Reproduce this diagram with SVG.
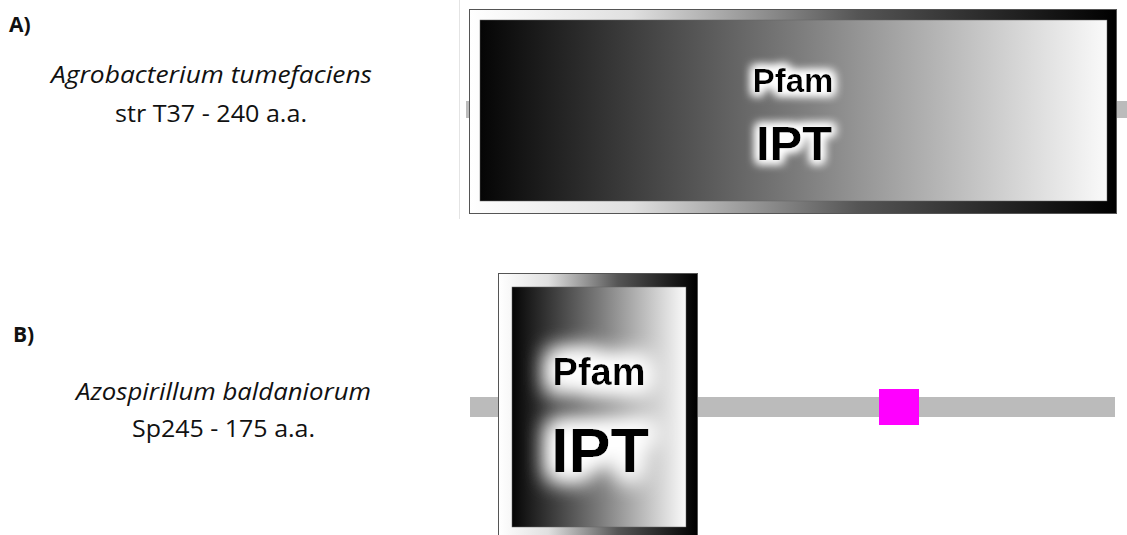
<svg xmlns="http://www.w3.org/2000/svg" width="1127" height="535" viewBox="0 0 1127 535">
<defs>
<linearGradient id="inner" x1="0" y1="0" x2="1" y2="0">
<stop offset="0" stop-color="#050505"/><stop offset="0.5" stop-color="#7a7a7a"/><stop offset="1" stop-color="#fafafa"/>
</linearGradient>
<linearGradient id="frame" x1="0" y1="0" x2="1" y2="0">
<stop offset="0" stop-color="#ffffff"/><stop offset="0.25" stop-color="#e0e0e0"/><stop offset="0.6" stop-color="#555"/><stop offset="1" stop-color="#000"/>
</linearGradient>
<filter id="glowA" x="-50%" y="-50%" width="200%" height="200%">
<feMorphology in="SourceAlpha" operator="dilate" radius="3" result="d"/>
<feGaussianBlur in="d" stdDeviation="5" result="b"/>
<feFlood flood-color="#fff"/>
<feComposite in2="b" operator="in" result="g"/>
<feMerge><feMergeNode in="g"/><feMergeNode in="g"/><feMergeNode in="SourceGraphic"/></feMerge>
</filter>
<filter id="glowB" x="-50%" y="-50%" width="200%" height="200%">
<feMorphology in="SourceAlpha" operator="dilate" radius="7" result="d"/>
<feGaussianBlur in="d" stdDeviation="11" result="b"/>
<feFlood flood-color="#fff"/>
<feComposite in2="b" operator="in" result="g"/>
<feMerge><feMergeNode in="g"/><feMergeNode in="g"/><feMergeNode in="SourceGraphic"/></feMerge>
</filter>
</defs>
<style>
.lbl{font-family:"Open Sans","Liberation Sans",sans-serif;fill:#111;font-size:23px;}
.ital{font-style:italic;}
.hdr{font-weight:bold;font-size:21px;}
.dom{font-family:"Liberation Sans",Arial,sans-serif;font-weight:bold;fill:#000;text-anchor:middle;}
.bb{fill:#bbbbbb;}
.frame{fill:url(#frame);stroke:#555;stroke-width:1;}
.inner{fill:url(#inner);stroke:#666;stroke-width:0.5;}
</style>
<rect width="1127" height="535" fill="#fff"/>
<line x1="459.5" y1="0" x2="459.5" y2="219" stroke="#e4e4e4" stroke-width="1"/>

<g id="labelA">
<text class="lbl hdr" x="9" y="32">A)</text>
<text class="lbl ital" x="51" y="83" textLength="321" lengthAdjust="spacingAndGlyphs">Agrobacterium tumefaciens</text>
<text class="lbl" x="115" y="122" textLength="192" lengthAdjust="spacingAndGlyphs">str T37 - 240 a.a.</text>
</g>
<g id="labelB">
<text class="lbl hdr" x="13" y="342">B)</text>
<text class="lbl ital" x="76" y="400" textLength="295" lengthAdjust="spacingAndGlyphs">Azospirillum baldaniorum</text>
<text class="lbl" x="132" y="437" textLength="183" lengthAdjust="spacingAndGlyphs">Sp245 - 175 a.a.</text>
</g>

<g id="backbones">
<rect class="bb" x="466" y="101" width="4" height="17"/>
<rect class="bb" x="1116" y="101" width="11" height="17"/>
<rect class="bb" x="470" y="397" width="645" height="20"/>
</g>

<g id="domainA">
<rect class="frame" x="469.5" y="9.5" width="647" height="204"/>
<rect class="inner" x="480" y="20" width="627" height="181"/>
<g filter="url(#glowA)">
<text class="dom" x="793" y="92" font-size="33">Pfam</text>
<text class="dom" x="794" y="160" font-size="49">IPT</text>
</g>
</g>

<g id="domainB">
<rect class="frame" x="498.5" y="273.5" width="199" height="270"/>
<rect class="inner" x="512" y="287" width="174" height="240"/>
<g filter="url(#glowB)">
<text class="dom" x="599" y="385" font-size="38">Pfam</text>
<text class="dom" x="600" y="472" font-size="63">IPT</text>
</g>
</g>

<g id="motifB">
<rect x="879" y="389" width="40" height="36" fill="#ff00ff"/>
</g>
</svg>
